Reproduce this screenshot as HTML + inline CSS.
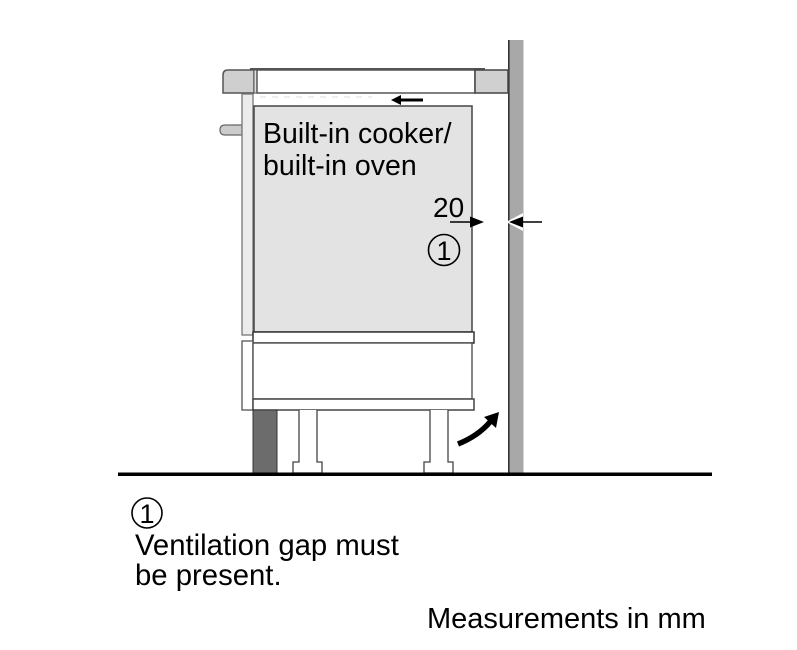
<!DOCTYPE html>
<html>
<head>
<meta charset="utf-8">
<style>
  html, body { margin: 0; padding: 0; background: #fff; }
  body { width: 797px; height: 650px; overflow: hidden; }
  svg { display: block; }
  text { font-family: "Liberation Sans", Arial, sans-serif; fill: #000; }
</style>
</head>
<body>
<svg width="797" height="650" viewBox="0 0 797 650" xmlns="http://www.w3.org/2000/svg">
  <!-- Wall -->
  <rect x="508" y="40" width="15.5" height="434" fill="#a8a8a8"/>
  <line x1="508.8" y1="40" x2="508.8" y2="474" stroke="#333" stroke-width="1.6"/>

  <!-- Cooktop top line -->
  <line x1="250" y1="69" x2="485" y2="69" stroke="#555" stroke-width="2"/>
  <!-- Left grey block -->
  <path d="M223,93 L223,75 Q223,70 228,70 L254,70 L254,93 Z" fill="#cfcfcf" stroke="#555" stroke-width="1.5"/>
  <rect x="254" y="70" width="3" height="23" fill="#e0e0e0" stroke="#555" stroke-width="1"/>
  <!-- white strip -->
  <rect x="257" y="70" width="218" height="23" fill="#fff" stroke="#555" stroke-width="1.5"/>
  <!-- right grey block -->
  <rect x="475" y="70" width="33" height="23" fill="#d0d0d0" stroke="#444" stroke-width="1.5"/>

  <!-- faint dashed line -->
  <line x1="260" y1="97" x2="372" y2="97" stroke="#dcdcdc" stroke-width="1" stroke-dasharray="6,6"/>

  <!-- top small arrow -->
  <line x1="398" y1="100" x2="423" y2="100" stroke="#000" stroke-width="3"/>
  <polygon points="391,100 401,95 401,105" fill="#000"/>

  <!-- knob -->
  <path d="M242,125 L225,125 Q220,125 220,130 Q220,135 225,135 L242,135 Z" fill="#cccccc" stroke="#666" stroke-width="1.2"/>

  <!-- left panel upper -->
  <rect x="242" y="94" width="11" height="241" fill="#ececec" stroke="#777" stroke-width="1.3"/>

  <!-- Oven box -->
  <rect x="254" y="106" width="218" height="226" fill="#e3e3e3" stroke="#444" stroke-width="1.5"/>

  <!-- strip under oven -->
  <rect x="253" y="332" width="221" height="11" fill="#fff" stroke="#333" stroke-width="1.5"/>
  <!-- left panel lower -->
  <rect x="242" y="341" width="11" height="69" fill="#fff" stroke="#555" stroke-width="1.3"/>
  <!-- drawer -->
  <rect x="253" y="343" width="219" height="56" fill="#fff" stroke="#444" stroke-width="1.3"/>
  <!-- bottom strip -->
  <rect x="253" y="399" width="221" height="11" fill="#fff" stroke="#444" stroke-width="1.5"/>

  <!-- dark plinth -->
  <rect x="253" y="410" width="24" height="63" fill="#6c6c6c" stroke="#333" stroke-width="1"/>

  <!-- legs -->
  <path d="M299,410 L299,462 L293,462 L293,473 L322,473 L322,462 L317,462 L317,410" fill="#fff" stroke="#444" stroke-width="1.3"/>
  <path d="M430,410 L430,462 L424,462 L424,473 L453,473 L453,462 L448,462 L448,410" fill="#fff" stroke="#444" stroke-width="1.3"/>

  <!-- curved arrow -->
  <path d="M458,444 Q478,436 490,422" fill="none" stroke="#000" stroke-width="5.5"/>
  <polygon points="499,412 484,417 496,428" fill="#000"/>

  <!-- floor -->
  <rect x="118" y="472.5" width="594" height="3.5" fill="#000"/>

  <!-- dimension arrows -->
  <line x1="450" y1="222" x2="472" y2="222" stroke="#000" stroke-width="1.5"/>
  <polygon points="484,222 470,216.5 470,227.5" fill="#000"/>
  <polygon points="506,222 523,213 523,231" fill="#fff"/>
  <line x1="518" y1="222" x2="542" y2="222" stroke="#000" stroke-width="1.5"/>
  <polygon points="509,222 523,216.5 523,227.5" fill="#000"/>

  <!-- Labels -->
  <text x="263" y="143" font-size="28.5">Built-in cooker/</text>
  <text x="263" y="175" font-size="28.5">built-in oven</text>
  <text x="433" y="217" font-size="28">20</text>

  <circle cx="444" cy="250" r="15.5" fill="none" stroke="#000" stroke-width="1.6"/>
  <text x="444" y="260" font-size="27" text-anchor="middle">1</text>

  <circle cx="147" cy="513" r="15" fill="none" stroke="#000" stroke-width="1.6"/>
  <text x="147" y="523" font-size="27" text-anchor="middle">1</text>

  <text x="135" y="555" font-size="29.3">Ventilation gap must</text>
  <text x="135" y="585" font-size="29.3">be present.</text>

  <text x="427" y="628" font-size="29">Measurements in mm</text>
</svg>
</body>
</html>
